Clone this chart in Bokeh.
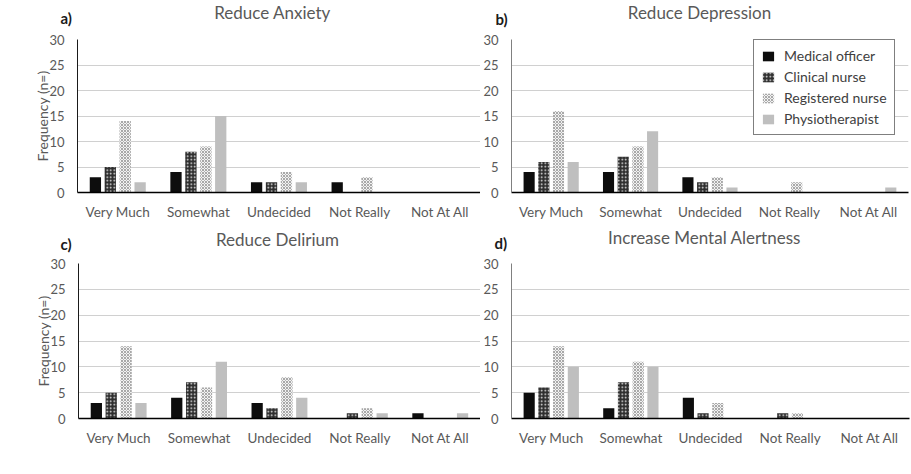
from bokeh.plotting import figure
from bokeh.layouts import column, row
from bokeh.models import (ColumnDataSource, FactorRange, Range1d, FixedTicker,
                          Label, Legend, LegendItem)
from bokeh.transform import dodge
from bokeh.embed import file_html
from bokeh.resources import INLINE

FONT = "Lato"
GREY_TEXT = "#595959"

categories = ["Very Much", "Somewhat", "Undecided", "Not Really", "Not At All"]
professions = ["Medical officer", "Clinical nurse", "Registered nurse", "Physiotherapist"]
y_ticks = [0, 5, 10, 15, 20, 25, 30]

# Frequencies per response category, one list per profession
anxiety_mo = [3, 4, 2, 2, 0]
anxiety_cn = [5, 8, 2, 0, 0]
anxiety_rn = [14, 9, 4, 3, 0]
anxiety_pt = [2, 15, 2, 0, 0]

depression_mo = [4, 4, 3, 0, 0]
depression_cn = [6, 7, 2, 0, 0]
depression_rn = [16, 9, 3, 2, 0]
depression_pt = [6, 12, 1, 0, 1]

delirium_mo = [3, 4, 3, 0, 1]
delirium_cn = [5, 7, 2, 1, 0]
delirium_rn = [14, 6, 8, 2, 0]
delirium_pt = [3, 11, 4, 1, 1]

alertness_mo = [5, 2, 4, 0, 0]
alertness_cn = [6, 7, 1, 1, 0]
alertness_rn = [14, 11, 3, 1, 0]
alertness_pt = [10, 10, 0, 0, 0]

# bar styling per profession: fill, hatch pattern, hatch colour
styles = [
    dict(fill_color="#0d0d0d", hatch_pattern=None, hatch_color="white",
         hatch_scale=4, hatch_weight=1),
    dict(fill_color="#2e2e2e", hatch_pattern="dot", hatch_color="#eeeeee",
         hatch_scale=3.5, hatch_weight=1),
    dict(fill_color="#f2f2f2", hatch_pattern="diagonal_cross", hatch_color="#a8a8a8",
         hatch_scale=3, hatch_weight=1),
    dict(fill_color="#bfbfbf", hatch_pattern=None, hatch_color="white",
         hatch_scale=4, hatch_weight=1),
]
offsets = [-0.278, -0.093, 0.092, 0.277]
bar_w = 0.14


def panel(letter, title, series, width, height, b_left, b_right, b_top, b_bottom,
          ylabel=None, axis_color="#1a1a1a", legend=False):
    src = ColumnDataSource(dict(cat=categories, mo=series[0], cn=series[1],
                                rn=series[2], pt=series[3]))
    p = figure(width=width, height=height, x_range=FactorRange(*categories),
               y_range=Range1d(0, 30), output_backend="svg", toolbar_location=None,
               min_border_left=b_left, min_border_right=b_right,
               min_border_top=b_top, min_border_bottom=b_bottom)
    p.outline_line_color = None
    p.background_fill_color = "white"
    p.border_fill_color = "white"

    renderers = []
    for key, off, st in zip(["mo", "cn", "rn", "pt"], offsets, styles):
        r = p.vbar(x=dodge("cat", off, range=p.x_range), top=key, width=bar_w,
                   source=src, line_color=None, **st)
        renderers.append(r)

    p.xgrid.grid_line_color = None
    p.ygrid.grid_line_color = "#d0d0d0"
    p.ygrid.grid_line_width = 1

    p.yaxis.ticker = FixedTicker(ticks=y_ticks)
    p.yaxis.major_tick_line_color = None
    p.yaxis.minor_tick_line_color = None
    p.yaxis.axis_line_color = axis_color
    p.yaxis.axis_line_width = 1
    p.yaxis.major_label_text_font = FONT
    p.yaxis.major_label_text_font_size = "13px"
    p.yaxis.major_label_text_color = GREY_TEXT
    p.yaxis.major_label_standoff = 7
    if ylabel:
        p.yaxis.axis_label = ylabel
        p.yaxis.axis_label_text_font = FONT
        p.yaxis.axis_label_text_font_style = "normal"
        p.yaxis.axis_label_text_font_size = "14px"
        p.yaxis.axis_label_text_color = GREY_TEXT
        p.yaxis.axis_label_standoff = -5

    p.xaxis.major_tick_line_color = None
    p.xaxis.minor_tick_line_color = None
    p.xaxis.axis_line_color = "#000000"
    p.xaxis.axis_line_width = 1.5
    p.xaxis.major_label_text_font = FONT
    p.xaxis.major_label_text_font_size = "13.5px"
    p.xaxis.major_label_text_color = GREY_TEXT
    p.xaxis.major_label_standoff = 5

    # panel title and panel letter live in the top border, positioned in pixels
    # from the left/bottom edge of their own strip
    p.add_layout(Label(x=title[1], y=title[2], x_units="screen", y_units="screen",
                       text=title[0], text_font=FONT, text_font_size="17px",
                       text_color=GREY_TEXT, text_align="center",
                       text_baseline="middle"), "above")
    p.add_layout(Label(x=letter[1], y=letter[2], x_units="screen", y_units="screen",
                       text=letter[0], text_font=FONT, text_font_size="15px",
                       text_font_style="bold", text_color="#1a1a1a",
                       text_align="left", text_baseline="middle"), "above")

    if legend:
        items = [LegendItem(label=name, renderers=[r]) for name, r in zip(professions, renderers)]
        lg = Legend(items=items, location=(242, 57), border_line_color="black",
                    border_line_width=1, label_text_font=FONT, label_text_font_size="14px",
                    label_text_color="#404040", glyph_width=14, glyph_height=12,
                    label_standoff=9, spacing=4, padding=7, margin=0,
                    background_fill_alpha=1)
        p.add_layout(lg, "center")
    return p


pa = panel(("a)", -17, 1), ("Reduce Anxiety", 195, 27),
           [anxiety_mo, anxiety_cn, anxiety_rn, anxiety_pt],
           480, 224, 77, 0, 38, 32, ylabel="Frequency (n=)")
pb = panel(("b)", -16, 0), ("Reduce Depression", 188, 27),
           [depression_mo, depression_cn, depression_rn, depression_pt],
           431, 224, 28, 3, 38, 32, axis_color="#808080", legend=True)
pc = panel(("c)", -18, -1), ("Reduce Delirium", 199, 24),
           [delirium_mo, delirium_cn, delirium_rn, delirium_pt],
           480, 250, 78, 0, 38, 56, ylabel="Frequency (n=)")
pd_ = panel(("d)", -17, 0), ("Increase Mental Alertness", 193, 26),
            [alertness_mo, alertness_cn, alertness_rn, alertness_pt],
            431, 250, 29, 2, 38, 56, axis_color="#808080")

layout = column(row(pa, pb), row(pc, pd_))
open("out.html", "w").write(file_html(layout, INLINE))
